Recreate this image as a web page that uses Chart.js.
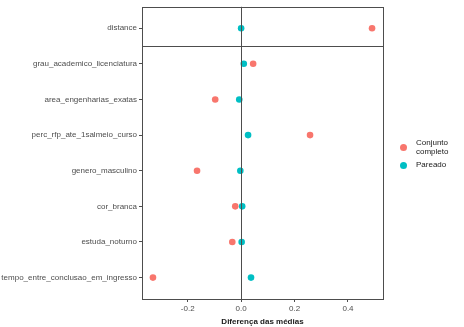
<!DOCTYPE html>
<html>
<head>
  <meta charset="utf-8">
  <title>Diferença das médias</title>
  <script src="https://cdn.jsdelivr.net/npm/chart.js"></script>
  <style>
    body { margin: 0; background: #fff; }
    #wrap { position: relative; width: 464px; height: 327px; }
    #legend { position: absolute; left: 399px; top: 139px; font: 8px "Liberation Sans", Arial, sans-serif; color: #1a1a1a; }
    .item { position: relative; padding-left: 17px; line-height: 8.5px; }
    .dot { position: absolute; left: 1px; width: 7px; height: 7px; border-radius: 50%; }
  </style>
</head>
<body>
<div id="wrap">
  <canvas id="chart" width="464" height="327"></canvas>
  <div id="legend">
    <div class="item"><span class="dot" style="background:#F8766D;top:5px"></span>Conjunto<br>completo</div>
    <div class="item" style="margin-top:5px"><span class="dot" style="background:#00BFC4;top:1px"></span>Pareado</div>
  </div>
</div>
<script>
  // variáveis (de cima para baixo)
  var categorias = ['distance', 'grau_academico_licenciatura', 'area_engenharias_exatas', 'perc_rfp_ate_1salmeio_curso',
    'genero_masculino', 'cor_branca', 'estuda_noturno', 'tempo_entre_conclusao_em_ingresso'];
  var completo = [0.49, 0.045, -0.097, 0.258, -0.165, -0.022, -0.033, -0.33];
  var pareado = [0.0, 0.01, -0.007, 0.026, -0.003, 0.004, 0.002, 0.037];
  var xTicks = [-0.2, 0.0, 0.2, 0.4];

  function pontos(vals) {
    return vals.map(function (v, i) { return { x: v, y: i }; });
  }

  // borda do painel + linhas de referência
  var painel = {
    id: 'painel',
    afterDatasetsDraw: function (chart) {
      var c = chart.ctx, a = chart.chartArea;
      var x0 = chart.scales.x.getPixelForValue(0);
      var yh = chart.scales.y.getPixelForValue(0.5);
      c.save();
      c.strokeStyle = '#4d4d4d';
      c.lineWidth = 1;
      c.beginPath();
      c.moveTo(Math.round(x0) + 0.5, a.top);
      c.lineTo(Math.round(x0) + 0.5, a.bottom);
      c.moveTo(a.left, Math.round(yh) + 0.5);
      c.lineTo(a.right, Math.round(yh) + 0.5);
      c.stroke();
      c.strokeRect(Math.round(a.left) + 0.5, Math.round(a.top) + 0.5, Math.round(a.right - a.left), Math.round(a.bottom - a.top));
      c.restore();
    }
  };

  var ctx = document.getElementById('chart').getContext('2d');
  Chart.defaults.font.family = '"Liberation Sans", Arial, sans-serif';
  Chart.defaults.font.size = 8;
  var chart = new Chart(ctx, {
    type: 'scatter',
    data: {
      datasets: [{
        label: 'Conjunto completo',
        data: pontos(completo),
        backgroundColor: '#F8766D',
        borderWidth: 0,
        pointRadius: 3.3
      }, {
        label: 'Pareado',
        data: pontos(pareado),
        backgroundColor: '#00BFC4',
        borderWidth: 0,
        pointRadius: 3.3
      }]
    },
    options: {
      responsive: false,
      animation: false,
      layout: { padding: { top: 6, right: 81, left: 0, bottom: 0 } },
      plugins: { legend: { display: false }, tooltip: { enabled: false } },
      scales: {
        x: {
          min: -0.371,
          max: 0.531,
          afterBuildTicks: function (s) { s.ticks = xTicks.map(function (v) { return { value: v }; }); },
          afterFit: function (s) { s.height = 28; },
          ticks: { color: '#4d4d4d', padding: 2, callback: function (v) { return v.toFixed(1); } },
          grid: { drawOnChartArea: false, tickLength: 3, tickColor: '#4d4d4d' },
          border: { display: false },
          title: { display: true, text: 'Diferença das médias', color: '#1a1a1a', font: { weight: 'bold' }, padding: { top: 1, bottom: 0 } }
        },
        y: {
          min: -0.6,
          max: 7.6,
          reverse: true,
          afterBuildTicks: function (s) { s.ticks = categorias.map(function (c, i) { return { value: i }; }); },
          afterFit: function (s) { s.width = 142; },
          ticks: { color: '#4d4d4d', padding: 2, callback: function (v) { return categorias[v]; } },
          grid: { drawOnChartArea: false, tickLength: 3, tickColor: '#4d4d4d' },
          border: { display: false }
        }
      }
    },
    plugins: [painel]
  });
</script>
</body>
</html>
